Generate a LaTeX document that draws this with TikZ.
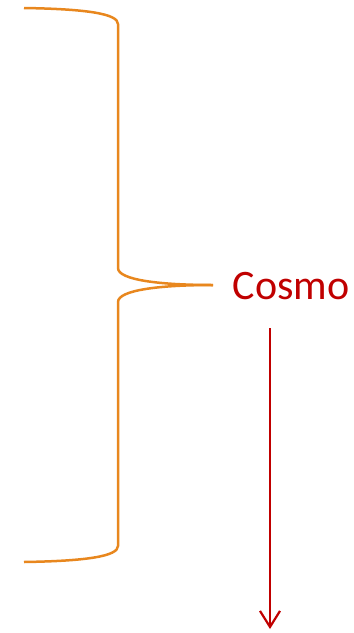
\documentclass[tikz,border=0pt]{standalone}
\usepackage{fontspec}
\setmainfont{Carlito}
\usetikzlibrary{arrows.meta}
\definecolor{braceorange}{RGB}{232,135,30}
\definecolor{darkred}{RGB}{192,0,0}
\tikzset{
  bracestyle/.style={draw=braceorange, line width=2.5pt, line join=round},
  arrowstyle/.style={draw=darkred, line width=2.2pt, -{Straight Barb[length=16pt,width=20pt,line width=2.2pt]}},
  labelstyle/.style={text=darkred, font=\fontsize{42}{50}\selectfont, inner sep=0pt}
}
\begin{document}
\begin{tikzpicture}[x=1pt,y=-1pt]
\useasboundingbox (0,0) rectangle (354,633);
\coordinate (btop) at (24,8);
\coordinate (bbot) at (24,562);
\coordinate (btip) at (213,285);
\draw[bracestyle] (btop) .. controls (88,9) and (118,14) .. (118,24)
  -- (118,268) .. controls (118,280) and (160,285) .. (btip);
\draw[bracestyle] (btip) .. controls (160,285) and (118,290) .. (118,302)
  -- (118,546) .. controls (118,556) and (88,561) .. (bbot);
\node[labelstyle, anchor=base] (cosmo) at (291,299) {Cosmo};
\coordinate (astart) at (270,328);
\coordinate (aend) at (270,629);
\draw[arrowstyle] (astart) -- (aend);
\end{tikzpicture}
\end{document}
